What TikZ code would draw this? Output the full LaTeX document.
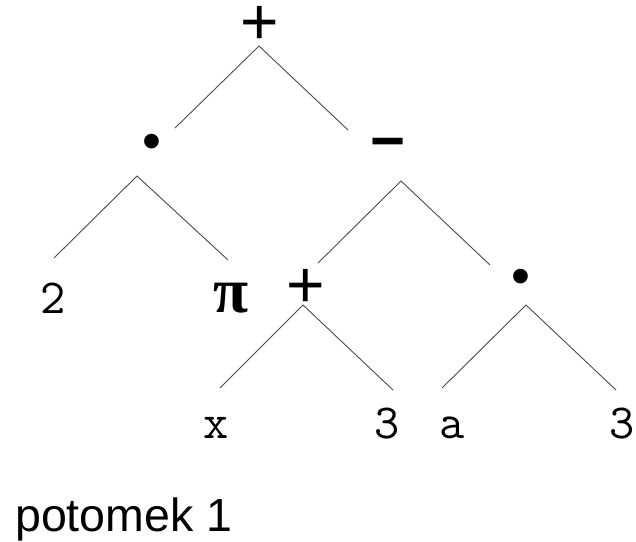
\documentclass[tikz,border=0pt]{standalone}
\usepackage{fontspec}
\setmainfont{Liberation Sans}
\newfontfamily\greekfont{Liberation Serif}
\begin{document}
\begin{tikzpicture}[x=1pt,y=-1pt,
  edge/.style={draw=black!70, line width=0.9pt},
  opnode/.style={inner sep=0pt, font=\fontsize{66}{70}\selectfont},
  minusnode/.style={inner sep=0pt, font=\bfseries\fontsize{60}{66}\selectfont},
  dotnode/.style={inner sep=0pt, font=\fontsize{54}{60}\selectfont},
  leaf/.style={inner sep=0pt, anchor=base, font=\ttfamily\fontsize{49}{56}\selectfont},
  pinode/.style={inner sep=0pt, font=\greekfont\bfseries\fontsize{64}{70}\selectfont},
  caption/.style={inner sep=0pt, anchor=base west, font=\fontsize{46.5}{52}\selectfont},
]
\path[use as bounding box, fill=white] (0,0) rectangle (636,541);

% operator and operand labels
\node[opnode]    (root)   at (260,25)  {+};
\node[dotnode]   (mul1)   at (152,147) {\textbullet};
\node[minusnode] (sub)    at (388,150) {−};
\node[leaf]      (two)    at (53,313)  {2};
\node[pinode]    (pi)     at (231,298) {π};
\node[opnode]    (add)    at (306,288) {+};
\node[dotnode]   (mul2)   at (521,282) {\textbullet};
\node[leaf]      (x)      at (216,438) {x};
\node[leaf]      (three1) at (387,438) {3};
\node[leaf]      (a)      at (452,438) {a};
\node[leaf]      (three2) at (622,438) {3};

% branch apexes and branch ends
\coordinate (root-top) at (259,46);
\coordinate (root-l)   at (175,128);
\coordinate (root-r)   at (348,130);
\coordinate (mul1-top) at (137,176);
\coordinate (mul1-l)   at (54,258);
\coordinate (mul1-r)   at (228,260);
\coordinate (sub-top)  at (401,181);
\coordinate (sub-l)    at (318,263);
\coordinate (sub-r)    at (490,265);
\coordinate (add-top)  at (303,305);
\coordinate (add-l)    at (220,388);
\coordinate (add-r)    at (393,390);
\coordinate (mul2-top) at (526,305);
\coordinate (mul2-l)   at (442,388);
\coordinate (mul2-r)   at (616,390);

\draw[edge] (root-l) -- (root-top) -- (root-r);
\draw[edge] (mul1-l) -- (mul1-top) -- (mul1-r);
\draw[edge] (sub-l)  -- (sub-top)  -- (sub-r);
\draw[edge] (add-l)  -- (add-top)  -- (add-r);
\draw[edge] (mul2-l) -- (mul2-top) -- (mul2-r);

\node[caption] (label) at (15,531) {potomek 1};
\end{tikzpicture}
\end{document}
